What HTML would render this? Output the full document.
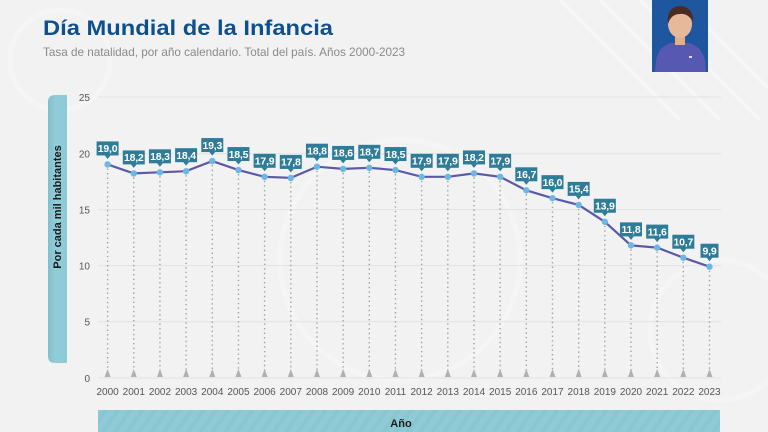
<!DOCTYPE html>
<html><head><meta charset="utf-8"><style>
html,body{margin:0;padding:0;width:768px;height:432px;overflow:hidden;background:#f2f2f2;}
svg{display:block;}
text{font-family:"Liberation Sans",Arial,sans-serif;}
</style></head><body>
<svg width="768" height="432" viewBox="0 0 768 432" xmlns="http://www.w3.org/2000/svg">
<defs>
<linearGradient id="tb" x1="0" y1="0" x2="1" y2="0">
<stop offset="0" stop-color="#7fbfcc"/><stop offset="0.4" stop-color="#92cdd8"/><stop offset="1" stop-color="#8dcad6"/>
</linearGradient>
<pattern id="stripes" width="10" height="10" patternUnits="userSpaceOnUse" patternTransform="rotate(35)">
<rect width="10" height="10" fill="#8ecbd6"/><rect width="4" height="10" fill="#88c6d2"/>
</pattern>
</defs>
<rect width="768" height="432" fill="#f2f2f2"/>
<g fill="none" stroke="#f5f5f5" stroke-width="5">
<circle cx="60" cy="60" r="50"/><circle cx="720" cy="330" r="70"/><circle cx="400" cy="260" r="120"/>
</g>
<g stroke="#f6f6f6" stroke-width="4">
<line x1="560" y1="0" x2="680" y2="120"/><line x1="600" y1="0" x2="720" y2="120"/><line x1="640" y1="0" x2="760" y2="120"/><line x1="680" y1="0" x2="768" y2="88"/>
</g>
<!-- title -->
<text x="43" y="35" font-size="21" font-weight="bold" fill="#0e4f8e" textLength="290" lengthAdjust="spacingAndGlyphs">Día Mundial de la Infancia</text>
<text x="43" y="56" font-size="12" fill="#8a8a8a" textLength="362" lengthAdjust="spacingAndGlyphs">Tasa de natalidad, por año calendario. Total del país. Años 2000-2023</text>
<!-- person -->
<rect x="652" y="0" width="56" height="72" fill="#1f56a0"/>
<path d="M655 72 L656 60 Q659 46 671 43 L689 43 Q701 46 705 60 L706 72 Z" fill="#5658b2"/>
<rect x="675" y="34" width="10" height="11" fill="#e3ad90"/>
<ellipse cx="680" cy="24" rx="12" ry="14" fill="#e8b89a"/>
<path d="M668 24 Q666 7 680 6 Q694 7 693 22 Q688 13 680 14 Q671 14 668 24Z" fill="#4a2c22"/>
<rect x="689" y="56" width="3" height="2" fill="#ddd"/>
<!-- y axis title box -->
<path d="M55 95 L67 95 L67 363 L55 363 Q48 363 48 356 L48 102 Q48 95 55 95Z" fill="url(#tb)"/>
<text transform="translate(61,207) rotate(-90)" text-anchor="middle" font-size="11" font-weight="bold" fill="#1a1a1a">Por cada mil habitantes</text>
<!-- x axis title bar -->
<rect x="98" y="410" width="622" height="22" fill="url(#stripes)"/>
<text x="401" y="427" text-anchor="middle" font-size="11" font-weight="bold" fill="#1a1a1a">Año</text>
<!-- grid -->
<g stroke="#e2e2e2" stroke-width="1">
<line x1="98" y1="97" x2="721" y2="97"/>
<line x1="98" y1="153.8" x2="721" y2="153.8"/>
<line x1="98" y1="209.6" x2="721" y2="209.6"/>
<line x1="98" y1="265.6" x2="721" y2="265.6"/>
<line x1="98" y1="321.8" x2="721" y2="321.8"/>
<line x1="98" y1="378" x2="721" y2="378"/>
</g>
<g font-size="10" fill="#555" text-anchor="end">
<text x="90" y="101">25</text>
<text x="90" y="157.5">20</text>
<text x="90" y="213.5">15</text>
<text x="90" y="269.5">10</text>
<text x="90" y="325.5">5</text>
<text x="90" y="382">0</text>
</g>
<g id="chart"></g>
</svg>
<script>
(function(){
var vals=[19.0,18.2,18.3,18.4,19.3,18.5,17.9,17.8,18.8,18.6,18.7,18.5,17.9,17.9,18.2,17.9,16.7,16.0,15.4,13.9,11.8,11.6,10.7,9.9];
var ns="http://www.w3.org/2000/svg";var g=document.getElementById("chart");
function X(i){return 107.6+26.17*i;}function Y(v){return 378-11.24*v;}
function el(n,a,t){var e=document.createElementNS(ns,n);for(var k in a)e.setAttribute(k,a[k]);if(t!=null)e.textContent=t;g.appendChild(e);return e;}
var pts=[];
for(var i=0;i<vals.length;i++){
 var x=X(i),y=Y(vals[i]);pts.push(x.toFixed(1)+","+y.toFixed(1));
 el("line",{x1:x,y1:y+4,x2:x,y2:371,stroke:"#a0a0a0","stroke-width":1.4,"stroke-dasharray":"1.4 3.2"});
 el("path",{d:"M"+(x-3)+" 377 L"+x+" 369 L"+(x+3)+" 377Z",fill:"#b0b0b0"});
 el("text",{x:x,y:395,"font-size":10,fill:"#555","text-anchor":"middle"},String(2000+i));
}
el("polyline",{points:pts.join(" "),fill:"none",stroke:"#5b5aa8","stroke-width":2.2});
for(var i=0;i<vals.length;i++){
 var x=X(i),y=Y(vals[i]);
 el("circle",{cx:x,cy:y,r:3.2,fill:"#6db7e3"});
 var s=vals[i].toFixed(1).replace(".",",");var w=s.length>3?22:18;
 el("rect",{x:x-w/2,y:y-23,width:w,height:14,fill:"#2f7c98"});
 el("path",{d:"M"+(x-3)+" "+(y-9.2)+" L"+x+" "+(y-5.5)+" L"+(x+3)+" "+(y-9.2)+"Z",fill:"#2f7c98"});
 el("text",{x:x,y:y-12.3,"font-size":10.5,"font-weight":"bold",fill:"#fff","text-anchor":"middle","letter-spacing":"-0.2"},s);
}
})();
</script>
</body></html>
